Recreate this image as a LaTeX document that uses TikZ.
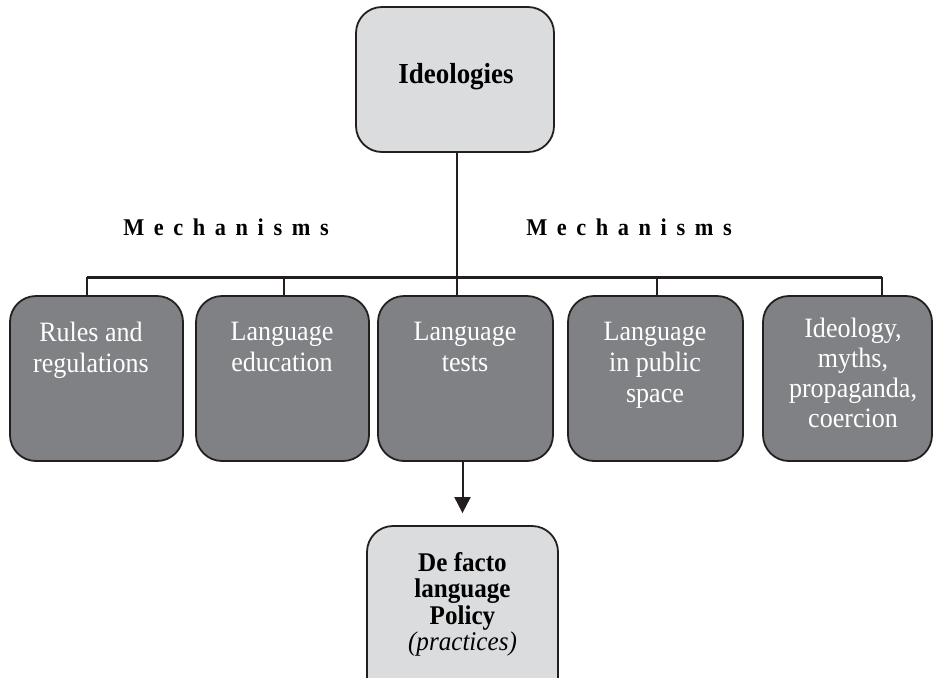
\documentclass[tikz,border=0pt]{standalone}
\usepackage{fontspec}
\setmainfont{Liberation Serif}[FakeStretch=0.93]
\usetikzlibrary{arrows.meta}
\definecolor{darkfill}{HTML}{808184}
\definecolor{lightfill}{HTML}{DBDCDE}
\definecolor{strokec}{HTML}{231F20}
\newcommand{\mechword}{M\kern4.8pt e\kern4.8pt c\kern4.8pt h\kern4.8pt a\kern4.8pt n\kern4.8pt i\kern4.8pt s\kern4.8pt m\kern4.8pt s}
\tikzset{
  boxbase/.style={draw=strokec, line width=0.9pt, rounded corners=13pt, inner sep=0pt},
  lightbox/.style={boxbase, fill=lightfill},
  darkbox/.style={boxbase, fill=darkfill},
  darktext/.style={anchor=north, inner sep=0pt, align=center, text=white,
    font=\fontsize{14}{15.5}\selectfont},
  thinline/.style={draw=strokec, line width=0.75pt},
  barline/.style={draw=strokec, line width=1.5pt},
  arrowline/.style={draw=strokec, line width=1pt, -{Triangle[length=8pt,width=8pt]}},
  mechtext/.style={anchor=base, inner sep=0pt, font=\fontsize{12}{13}\selectfont\bfseries}
}
\begin{document}
\begin{tikzpicture}[x=0.5pt,y=-0.5pt]
\useasboundingbox (0,0) rectangle (935,677);
\clip (0,0) rectangle (935,677);
% top box
\node[lightbox, minimum width=198*0.5pt, minimum height=145*0.5pt] (top) at (455,79.5) {};
\node[anchor=base, inner sep=0pt, font=\fontsize{14.5}{16}\selectfont\bfseries] (ttop) at (456,83) {Ideologies};
% mechanisms labels
\node[mechtext] (m1) at (226,235) {\mechword};
\node[mechtext] (m2) at (629,235) {\mechword};
% mechanism boxes
\node[darkbox, minimum width=173*0.5pt, minimum height=165*0.5pt] (b1) at (96.5,378.5) {};
\node[darkbox, minimum width=173*0.5pt, minimum height=165*0.5pt] (b2) at (282.5,378.5) {};
\node[darkbox, minimum width=175*0.5pt, minimum height=165*0.5pt] (b3) at (465.5,378.5) {};
\node[darkbox, minimum width=175*0.5pt, minimum height=165*0.5pt] (b4) at (655.5,378.5) {};
\node[darkbox, minimum width=169*0.5pt, minimum height=165*0.5pt] (b5) at (847.5,378.5) {};
\node[darktext] (t1) at (91,322) {Rules and\\regulations};
\node[darktext] (t2) at (282,322) {Language\\education};
\node[darktext] (t3) at (465,322) {Language\\tests};
\node[darktext] (t4) at (655,322) {Language\\in public\\space};
\node[darktext, font=\fontsize{14}{15}\selectfont] (t5) at (853,318) {Ideology,\\myths,\\propaganda,\\coercion};
% policy box
\node[lightbox, minimum width=191*0.5pt, minimum height=194*0.5pt] (pol) at (462.5,623) {};
\node[anchor=north, inner sep=0pt, align=center, font=\fontsize{13.5}{13.25}\selectfont\bfseries] (tpol) at (462.5,552) {De facto\\language\\Policy\\{\normalfont\itshape (practices)}};
% connectors
\coordinate (j1) at (87,277);
\coordinate (j2) at (284,277);
\coordinate (j3) at (457,277);
\coordinate (j4) at (657,277);
\coordinate (j5) at (882,277);
\draw[thinline] (j3 |- top.south) -- (j3);
\draw[barline] (j1) -- (j5);
\draw[thinline] (j1) -- (j1 |- b1.north);
\draw[thinline] (j2) -- (j2 |- b2.north);
\draw[thinline] (j3) -- (j3 |- b3.north);
\draw[thinline] (j4) -- (j4 |- b4.north);
\draw[thinline] (j5) -- (j5 |- b5.north);
\draw[arrowline, shorten >=6pt] (pol.north |- b3.south) -- (pol.north);
\end{tikzpicture}
\end{document}
